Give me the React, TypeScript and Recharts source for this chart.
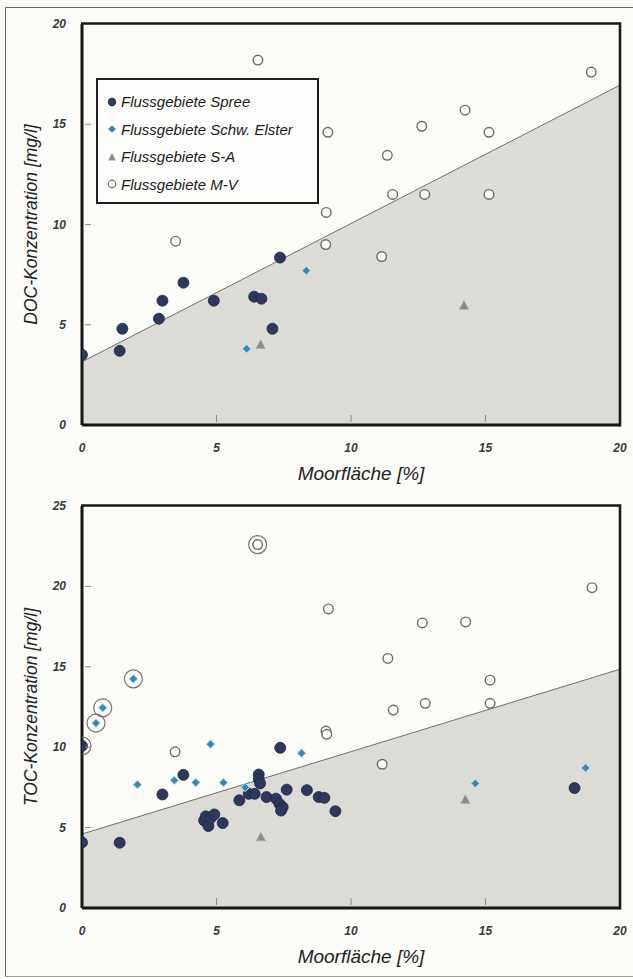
import React from 'react';
import { ComposedChart, Scatter, Area, XAxis, YAxis, Label } from 'recharts';

// ---------- shared ----------
const xTicks = [0, 5, 10, 15, 20];
const docTicks = [0, 5, 10, 15, 20];
const tocTicks = [0, 5, 10, 15, 20, 25];

const legendLabels = [
  'Flussgebiete Spree',
  'Flussgebiete Schw. Elster',
  'Flussgebiete S-A',
  'Flussgebiete M-V',
];

// ---------- DOC (top) ----------
const docSpreeX = [0, 1.4, 1.5, 2.86, 2.99, 3.77, 4.9, 6.4, 6.67, 7.08, 7.36];
const docSpreeY = [3.5, 3.7, 4.8, 5.3, 6.2, 7.1, 6.2, 6.4, 6.3, 4.8, 8.35];
const docElsterX = [6.12, 8.34];
const docElsterY = [3.8, 7.7];
const docSAX = [6.64, 14.2];
const docSAY = [4.0, 5.95];
const docMVX = [6.54, 3.48, 9.06, 18.93, 14.24, 12.63, 15.13, 9.14, 11.35, 11.55, 12.74, 15.13, 9.08, 11.14];
const docMVY = [18.2, 9.17, 9.0, 17.6, 15.7, 14.9, 14.6, 14.6, 13.45, 11.5, 11.5, 11.5, 10.6, 8.4];
const docFitX = [0, 20];
const docFitY = [3.15, 16.95];

// ---------- TOC (bottom) ----------
const tocSpreeX = [0, 0, 1.4, 2.99, 3.77, 4.54, 4.6, 4.7, 4.79, 4.92, 5.23, 5.85, 6.2, 6.42, 6.57, 6.57, 6.62, 6.86, 7.21, 7.34, 7.46, 7.4, 7.37, 7.61, 8.36, 8.8, 9.01, 9.42, 18.31];
const tocSpreeY = [10.08, 4.08, 4.06, 7.06, 8.28, 5.44, 5.7, 5.1, 5.6, 5.82, 5.28, 6.7, 7.1, 7.1, 8.3, 8.0, 7.75, 6.9, 6.8, 6.48, 6.27, 6.06, 9.96, 7.36, 7.33, 6.9, 6.85, 6.02, 7.46];
const tocElsterX = [0.52, 0.77, 1.91, 2.06, 3.43, 4.23, 4.78, 5.26, 6.07, 8.16, 14.62, 18.72];
const tocElsterY = [11.5, 12.45, 14.25, 7.67, 7.94, 7.8, 10.19, 7.8, 7.5, 9.63, 7.75, 8.71];
const tocSAX = [6.65, 14.25];
const tocSAY = [4.4, 6.73];
const tocMVX = [6.53, 3.46, 9.07, 9.1, 9.16, 12.65, 14.26, 18.96, 11.37, 15.17, 11.57, 12.76, 15.17, 11.16];
const tocMVY = [22.6, 9.71, 11.0, 10.8, 18.6, 17.73, 17.79, 19.92, 15.52, 14.17, 12.31, 12.73, 12.73, 8.94];
const tocRingX = [0, 0.52, 0.77, 1.91, 6.53];
const tocRingY = [10.08, 11.5, 12.45, 14.25, 22.6];
const tocFitX = [0, 20];
const tocFitY = [4.6, 14.85];

const zip = (xs: number[], ys: number[]) => xs.map((x, i) => ({ x, y: ys[i] }));

const FONT = '"Liberation Sans", Arial, Helvetica, sans-serif';
const SPREE = '#2c395c';
const ELSTER = '#2f8cba';
const SA = '#8b8b8b';
const MV = '#6a6a6a';
const FIT_FILL = '#dddbd6';

const PLOT_LEFT = 82;
const PLOT_RIGHT = 620;
const PLOT_TOP = 24;
const X_AXIS_H = 40;

// ---------- shapes ----------
const DotShape = (p: any) => (
  <circle cx={p.cx} cy={p.cy} r={5.5} fill={SPREE} stroke="#1d2743" strokeWidth={0.8} />
);
const DiamondShape = (p: any) => {
  const s = 4.3;
  return (
    <polygon
      points={`${p.cx},${p.cy - s} ${p.cx + s},${p.cy} ${p.cx},${p.cy + s} ${p.cx - s},${p.cy}`}
      fill={ELSTER}
      stroke="#bfe2ef"
      strokeWidth={1}
    />
  );
};
const TriangleShape = (p: any) => (
  <polygon
    points={`${p.cx},${p.cy - 5} ${p.cx + 4.6},${p.cy + 3.6} ${p.cx - 4.6},${p.cy + 3.6}`}
    fill={SA}
    stroke="#a8a8a8"
    strokeWidth={0.6}
  />
);
const OpenShape = (p: any) => (
  <circle cx={p.cx} cy={p.cy} r={4.8} fill="#fdfdfb" stroke={MV} strokeWidth={1.4} />
);
const RingShape = (p: any) => (
  <circle cx={p.cx} cy={p.cy} r={9} fill="none" stroke="#7e6f6f" strokeWidth={1.2} />
);

// ---------- ticks ----------
const makeYTick = (max: number) => (props: any) => {
  const { x, y, payload } = props;
  const ax = x + 16;
  const v = payload.value;
  return (
    <g>
      {v > 0 && v < max && (
        <line x1={ax + 3} x2={ax + 9} y1={y} y2={y} stroke="#8a8a8a" strokeWidth={1} />
      )}
      <text
        x={x}
        y={y}
        dy={4}
        textAnchor="end"
        fontFamily={FONT}
        fontSize={12}
        fontStyle="italic"
        fontWeight="bold"
        fill="#3a3a3a"
      >
        {v}
      </text>
    </g>
  );
};

const XTick = (props: any) => {
  const { x, y, payload } = props;
  const ay = y - 14;
  const v = payload.value;
  return (
    <g>
      {v > 0 && v < 20 && (
        <line x1={x} x2={x} y1={ay - 3} y2={ay - 10} stroke="#8a8a8a" strokeWidth={1} />
      )}
      <text
        x={x}
        y={y + 13}
        textAnchor="middle"
        fontFamily={FONT}
        fontSize={12}
        fontStyle="italic"
        fontWeight="bold"
        fill="#3a3a3a"
      >
        {v}
      </text>
    </g>
  );
};

const yTitle = (text: string) => (props: any) => {
  const vb = props.viewBox || { x: 0, y: PLOT_TOP, width: PLOT_LEFT, height: 400 };
  const cx = vb.x + 31;
  const cy = vb.y + vb.height / 2;
  return (
    <text
      x={cx}
      y={cy}
      transform={`rotate(-90 ${cx} ${cy})`}
      textAnchor="middle"
      dominantBaseline="central"
      fontFamily={FONT}
      fontSize={17.5}
      fontStyle="italic"
      fill="#222"
    >
      {text}
    </text>
  );
};

const xTitle = (props: any) => {
  const vb = props.viewBox || { x: 82, y: 425, width: 538, height: 40 };
  return (
    <text
      x={vb.x + vb.width / 2 + 10}
      y={vb.y + 55}
      textAnchor="middle"
      fontFamily={FONT}
      fontSize={19}
      fontStyle="italic"
      fill="#222"
    >
      Moorfläche [%]
    </text>
  );
};

// ---------- legend ----------
const LegendMarker = ({ i }: { i: number }) => (
  <svg width={12} height={12} style={{ display: 'block' }}>
    {i === 0 && <circle cx={6} cy={6} r={4.2} fill={SPREE} />}
    {i === 1 && <polygon points="6,2.2 9.8,6 6,9.8 2.2,6" fill={ELSTER} />}
    {i === 2 && <polygon points="6,2 9.8,9.5 2.2,9.5" fill={SA} />}
    {i === 3 && <circle cx={6} cy={6} r={3.8} fill="#fff" stroke={MV} strokeWidth={1.2} />}
  </svg>
);

const LegendBox = () => (
  <div
    style={{
      position: 'absolute',
      left: 96,
      top: 78,
      width: 223,
      height: 126,
      boxSizing: 'border-box',
      border: '2px solid #1e1e1e',
      background: '#fdfdfb',
      paddingTop: 8,
      paddingLeft: 8,
      fontFamily: FONT,
      zIndex: 6,
    }}
  >
    {legendLabels.map((t, i) => (
      <div key={t} style={{ height: 27.5, display: 'flex', alignItems: 'center' }}>
        <LegendMarker i={i} />
        <span style={{ marginLeft: 3, fontSize: 15, fontStyle: 'italic', color: '#1a1a1a' }}>{t}</span>
      </div>
    ))}
  </div>
);

// ---------- chart ----------
type Pt = { x: number; y: number };
type ChartProps = {
  top: number;
  height: number;
  marginBottom: number;
  yMax: number;
  yTicks: number[];
  yLabel: string;
  fit: Pt[];
  spree: Pt[];
  elster: Pt[];
  sa: Pt[];
  mv: Pt[];
  rings?: Pt[];
};

const Panel = (p: ChartProps) => (
  <div style={{ position: 'absolute', left: 0, top: p.top, width: 633, height: p.height }}>
    <ComposedChart
      width={633}
      height={p.height}
      data={p.fit}
      margin={{ top: PLOT_TOP, right: 633 - PLOT_RIGHT, bottom: p.marginBottom, left: 0 }}
    >
      <XAxis
        dataKey="x"
        type="number"
        domain={[0, 20]}
        ticks={xTicks}
        interval={0}
        height={X_AXIS_H}
        tickSize={0}
        tickMargin={14}
        tickLine={false}
        axisLine={{ stroke: '#151515', strokeWidth: 3 }}
        tick={<XTick />}
        allowDataOverflow
      >
        <Label content={xTitle} />
      </XAxis>
      <YAxis
        dataKey="y"
        type="number"
        domain={[0, p.yMax]}
        ticks={p.yTicks}
        interval={0}
        width={PLOT_LEFT}
        tickSize={0}
        tickMargin={16}
        tickLine={false}
        axisLine={{ stroke: '#151515', strokeWidth: 3 }}
        tick={makeYTick(p.yMax)}
        allowDataOverflow
      >
        <Label content={yTitle(p.yLabel)} />
      </YAxis>
      <Area
        dataKey="y"
        type="linear"
        stroke="#6f6f6f"
        strokeWidth={1}
        fill={FIT_FILL}
        fillOpacity={1}
        isAnimationActive={false}
        dot={false}
        activeDot={false}
      />
      {p.rings && <Scatter data={p.rings} shape={RingShape} isAnimationActive={false} />}
      <Scatter data={p.mv} shape={OpenShape} isAnimationActive={false} />
      <Scatter data={p.sa} shape={TriangleShape} isAnimationActive={false} />
      <Scatter data={p.spree} shape={DotShape} isAnimationActive={false} />
      <Scatter data={p.elster} shape={DiamondShape} isAnimationActive={false} />
    </ComposedChart>
  </div>
);

export default function App() {
  return (
    <div
      style={{
        position: 'absolute',
        left: 0,
        top: 0,
        width: 633,
        height: 979,
        background: '#fbfbf8',
        fontFamily: FONT,
      }}
    >
      <Panel
        top={0}
        height={490}
        marginBottom={25}
        yMax={20}
        yTicks={docTicks}
        yLabel="DOC-Konzentration [mg/l]"
        fit={zip(docFitX, docFitY)}
        spree={zip(docSpreeX, docSpreeY)}
        elster={zip(docElsterX, docElsterY)}
        sa={zip(docSAX, docSAY)}
        mv={zip(docMVX, docMVY)}
      />
      <Panel
        top={482}
        height={497}
        marginBottom={31}
        yMax={25}
        yTicks={tocTicks}
        yLabel="TOC-Konzentration [mg/l]"
        fit={zip(tocFitX, tocFitY)}
        spree={zip(tocSpreeX, tocSpreeY)}
        elster={zip(tocElsterX, tocElsterY)}
        sa={zip(tocSAX, tocSAY)}
        mv={zip(tocMVX, tocMVY)}
        rings={zip(tocRingX, tocRingY)}
      />
      {/* page frame and the top/right edges of both plot boxes */}
      <svg
        width={633}
        height={979}
        style={{ position: 'absolute', left: 0, top: 0, zIndex: 5, pointerEvents: 'none' }}
      >
        <polyline points="5.5,977 5.5,7.5 633,7.5" fill="none" stroke="#6a6a6a" strokeWidth={1} />
        <line x1={5} y1={976.5} x2={633} y2={976.5} stroke="#9a9a9a" strokeWidth={1} />
        <polyline points="81,23.5 620,23.5 620,426.5" fill="none" stroke="#1a1a1a" strokeWidth={2.6} />
        <polyline points="81,505.5 620,505.5 620,909.5" fill="none" stroke="#1a1a1a" strokeWidth={2.6} />
      </svg>
      <LegendBox />
    </div>
  );
}
